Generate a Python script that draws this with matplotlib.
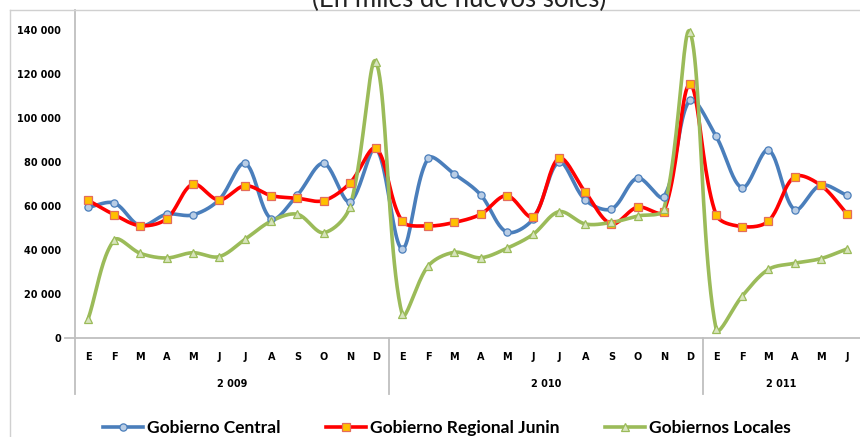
import numpy as np
import matplotlib
matplotlib.use('Agg')
import matplotlib.pyplot as plt
from matplotlib.lines import Line2D
from matplotlib.ticker import FuncFormatter
import matplotlib.transforms as mtransforms

# data (miles de nuevos soles)
months = ["E", "F", "M", "A", "M", "J", "J", "A", "S", "O", "N", "D",
          "E", "F", "M", "A", "M", "J", "J", "A", "S", "O", "N", "D",
          "E", "F", "M", "A", "M", "J"]
years = ["2 009", "2 010", "2 011"]
year_lengths = [12, 12, 6]

central = [59300, 61200, 50900, 56100, 55800, 62600, 79300, 54000, 64900, 79300, 61800, 86100,
           40400, 81600, 74400, 65000, 48000, 53900, 79800, 62600, 58500, 72600, 64000, 108100,
           91600, 68200, 85400, 58200, 69400, 64700]
regional = [62500, 55900, 50900, 54000, 69800, 62600, 69100, 64600, 63400, 62300, 70200, 86100,
            53000, 50800, 52400, 56100, 64600, 55000, 81600, 66200, 51700, 59400, 57300, 115300,
            55900, 50500, 53000, 73200, 69300, 56400]
locales = [8300, 44400, 38300, 36200, 38600, 36800, 44700, 53000, 56100, 47700, 59300, 125600,
           10700, 32600, 38800, 36300, 40600, 46900, 57300, 51700, 52400, 55300, 58400, 139200,
           3900, 18900, 31000, 33800, 35900, 40300]

series_names = ["Gobierno Central", "Gobierno Regional Junin", "Gobiernos Locales"]


def smooth(x, y, xs_px, ys_px, n=24):
    # Excel-like smoothed line: Bezier segments, tangents weighted by the
    # on-screen lengths of the neighbouring segments
    p = np.column_stack([np.asarray(x, float), np.asarray(y, float)])
    s = p * [xs_px, ys_px]
    t = np.linspace(0, 1, n)[:, None]
    out = []
    m = len(p)

    def ctrl(i, forward):
        prev_i, next_i = max(i - 1, 0), min(i + 1, m - 1)
        d1 = np.hypot(*(s[i] - s[prev_i]))
        d2 = np.hypot(*(s[next_i] - s[i]))
        if d1 + d2 == 0:
            return p[i]
        w = (d2 if forward else d1) / (d1 + d2)
        tan = (p[next_i] - p[prev_i]) * w / 3
        return p[i] + tan if forward else p[i] - tan

    for i in range(m - 1):
        p0, p3 = p[i], p[i + 1]
        c1, c2 = ctrl(i, True), ctrl(i + 1, False)
        b = ((1 - t) ** 3) * p0 + 3 * ((1 - t) ** 2) * t * c1 + 3 * (1 - t) * t ** 2 * c2 + t ** 3 * p3
        out.append(b)
    out = np.vstack(out)
    return out[:, 0], out[:, 1]


W, H = 860, 437
fig = plt.figure(figsize=(W / 100, H / 100), dpi=100)
ax_top, ax_bot, ax_left = 10, 337.5, 75
ax = fig.add_axes([ax_left / W, (H - ax_bot) / H, 1 - ax_left / W, (ax_bot - ax_top) / H])

scale = 140000 / (ax_bot - 30)
x = np.arange(len(months))
px_per_x = (W - ax_left) / len(months)
styles = [
    dict(color="#4A7EBB", marker="o", mfc="#B9CDE5", mec="#4A7EBB", ms=5.2),
    dict(color="#FF0000", marker="s", mfc="#FFC000", mec="#E46C5A", ms=5.6),
    dict(color="#9BBB59", marker="^", mfc="#D7E4BD", mec="#9BBB59", ms=5.6),
]
handles = []
for vals, st, name in zip([central, regional, locales], styles, series_names):
    sx, sy = smooth(x, vals, px_per_x, 1 / scale)
    ax.plot(sx, sy, color=st["color"], lw=2.6, solid_capstyle="round", zorder=2)
    ax.plot(x, vals, ls="none", marker=st["marker"], mfc=st["mfc"], mec=st["mec"],
            ms=st["ms"], mew=0.9, zorder=3)
    handles.append(Line2D([], [], color=st["color"], lw=2.6, marker=st["marker"],
                          mfc=st["mfc"], mec=st["mec"], ms=st["ms"], mew=0.9))

ax.set_ylim(0, (ax_bot - ax_top) * scale)
ax.set_xlim(-0.5, len(months) - 0.5)
ax.set_yticks(np.arange(0, 140001, 20000))
ax.yaxis.set_major_formatter(FuncFormatter(lambda v, p: f"{v:,.0f}".replace(",", " ")))
ax.tick_params(axis="y", length=0, pad=10, labelsize=7)
for lab in ax.get_yticklabels():
    lab.set_fontweight("bold")
ax.set_xticks([])

for s in ["top", "right"]:
    ax.spines[s].set_visible(False)
for s in ["left", "bottom"]:
    ax.spines[s].set_color("#BFBFBF")
    ax.spines[s].set_linewidth(1.3)

ax_w = W - ax_left
ax_h = ax_bot - ax_top
# small stub where the category axis crosses the value axis
ax.plot([-10 / ax_w, 0], [0, 0], transform=ax.transAxes, color="#BFBFBF", lw=1.3, clip_on=False)

trans = mtransforms.blended_transform_factory(ax.transData, ax.transAxes)
for i, m in enumerate(months):
    ax.text(i, -(357.5 - ax_bot) / ax_h, m, transform=trans, ha="center", va="center",
            fontsize=7, fontweight="bold")

start = 0
bounds = [-0.5]
for yr, n in zip(years, year_lengths):
    ax.text(start + (n - 1) / 2, -(384 - ax_bot) / ax_h, yr, transform=trans, ha="center",
            va="center", fontsize=7, fontweight="bold")
    start += n
    bounds.append(start - 0.5)
for b in bounds[:-1]:
    ax.plot([b, b], [0, -(394 - ax_bot) / ax_h], transform=trans, color="#BFBFBF",
            lw=1.3, clip_on=False)

# chart border
fig.add_artist(Line2D([9.5 / W, 1], [1 - 10 / H, 1 - 10 / H], color="#D0D0D0", lw=1))
fig.add_artist(Line2D([9.5 / W, 9.5 / W], [0, 1 - 10 / H], color="#D0D0D0", lw=1))

fig.text(459 / W, (H - 7.0) / H, "(En miles de nuevos soles)", ha="center", va="baseline",
         fontsize=18.5, family="Lato", color="#222222")

fig.legend(handles, series_names, loc="center", bbox_to_anchor=(447 / W, (H - 428) / H),
           ncol=3, frameon=False, handlelength=2.3, handletextpad=0.25, columnspacing=2.6,
           prop=dict(family="Lato", weight="bold", size=12.5))

fig.savefig("out.png", dpi=100)
